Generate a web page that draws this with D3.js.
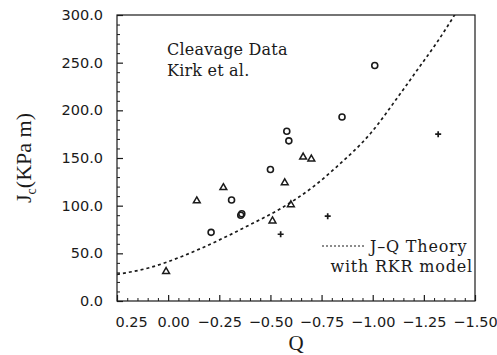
<!DOCTYPE html>
<html>
<head>
<meta charset="utf-8">
<script src="https://cdn.jsdelivr.net/npm/d3@7"></script>
<style>
  html, body { margin: 0; padding: 0; background: #fff; }
  svg { display: block; }
  .note { font-family: "DejaVu Serif", "Liberation Serif", serif; font-size: 16px; letter-spacing: 0.2px; }
  .legend-text { font-family: "DejaVu Serif", "Liberation Serif", serif; font-size: 16px; letter-spacing: 0.8px; }
</style>
</head>
<body>
<svg id="chart" width="497" height="355"></svg>
<script>
// Cleavage toughness data (Kirk et al.) against the constraint parameter Q
const triangleQ = [0.01, -0.14, -0.27, -0.51, -0.57, -0.60, -0.66, -0.70];
const triangleJ = [31, 105, 119, 84, 124, 101, 151, 149];

const circleQ = [-0.21, -0.31, -0.355, -0.36, -0.50, -0.58, -0.59, -0.85, -1.01];
const circleJ = [72, 106, 90, 91.5, 138, 178, 168, 193, 247];

const plusQ = [-0.55, -0.78, -1.32];
const plusJ = [70, 89, 175];

// J-Q theory prediction with the RKR cleavage model
const theoryQ = [0.25, 0.09, -0.07, -0.24, -0.40, -0.55, -0.71, -0.82, -0.99, -1.13, -1.23, -1.31, -1.40, -1.45];
const theoryJ = [28, 35, 47, 63, 80, 97, 120, 140, 176, 216, 246, 270, 300, 318];

const xTicks = [0.25, 0.00, -0.25, -0.50, -0.75, -1.00, -1.25, -1.50];
const yTicks = [0, 50, 100, 150, 200, 250, 300];

const noteLines = ["Cleavage Data", "Kirk et al."];
const legendLines = ["J\u2013Q Theory", "with RKR model"];

const svg = d3.select("#chart");
const plotLeft = 117, plotRight = 475, plotTop = 15, plotBottom = 301;

const x = d3.scaleLinear().domain([0.25, -1.5]).range([plotLeft, plotRight]);
const y = d3.scaleLinear().domain([0, 300]).range([plotBottom, plotTop]);

const ink = "#1a1a1a";
const tickFont = "'DejaVu Sans', sans-serif";
const titleFont = "'Liberation Serif', 'Times New Roman', serif";

svg.append("defs").append("clipPath").attr("id", "plot-clip")
  .append("rect").attr("x", plotLeft).attr("y", plotTop)
  .attr("width", plotRight - plotLeft).attr("height", plotBottom - plotTop);

// minor ticks
const xMinor = d3.range(0, 36).map(i => +(0.25 - i * 0.05).toFixed(2)).filter(v => !xTicks.includes(v));
const yMinor = d3.range(0, 301, 10).filter(v => !yTicks.includes(v));

svg.append("g").attr("transform", `translate(0,${plotBottom})`)
  .call(d3.axisBottom(x).tickValues(xMinor).tickSizeInner(-3).tickSizeOuter(0).tickFormat(""))
  .call(g => g.select(".domain").remove())
  .selectAll("line").attr("stroke", ink).attr("stroke-width", 1);

svg.append("g").attr("transform", `translate(${plotLeft},0)`)
  .call(d3.axisLeft(y).tickValues(yMinor).tickSizeInner(-3).tickSizeOuter(0).tickFormat(""))
  .call(g => g.select(".domain").remove())
  .selectAll("line").attr("stroke", ink).attr("stroke-width", 1);

// major ticks and labels
const fmtX = d3.format(".2f");
const xAxis = svg.append("g").attr("transform", `translate(0,${plotBottom})`)
  .call(d3.axisBottom(x).tickValues(xTicks).tickSizeInner(-6).tickSizeOuter(0)
    .tickPadding(16).tickFormat(fmtX));
xAxis.select(".domain").remove();
xAxis.selectAll("line").attr("stroke", ink).attr("stroke-width", 1.2);
xAxis.selectAll("text").attr("fill", ink).style("font-family", tickFont).style("font-size", "14.5px")
  .attr("text-anchor", d => d === 0.25 ? "start" : "middle")
  .attr("dx", d => d === 0.25 ? -2 : (d === 0 ? 5 : 0));

const yAxis = svg.append("g").attr("transform", `translate(${plotLeft},0)`)
  .call(d3.axisLeft(y).tickValues(yTicks).tickSizeInner(-6).tickSizeOuter(0)
    .tickPadding(14).tickFormat(d3.format(".1f")));
yAxis.select(".domain").remove();
yAxis.selectAll("line").attr("stroke", ink).attr("stroke-width", 1.2);
yAxis.selectAll("text").attr("fill", ink).style("font-family", tickFont).style("font-size", "14.5px");

// frame
svg.append("rect").attr("x", plotLeft).attr("y", plotTop)
  .attr("width", plotRight - plotLeft).attr("height", plotBottom - plotTop)
  .attr("fill", "none").attr("stroke", ink).attr("stroke-width", 1.2);

// theory curve
const theory = theoryQ.map((q, i) => [q, theoryJ[i]]);
svg.append("path").datum(theory)
  .attr("clip-path", "url(#plot-clip)")
  .attr("fill", "none").attr("stroke", ink).attr("stroke-width", 1.7)
  .attr("stroke-dasharray", "3,3")
  .attr("d", d3.line().x(d => x(d[0])).y(d => y(d[1])).curve(d3.curveMonotoneX));

// markers
const marks = svg.append("g").attr("fill", "none").attr("stroke", ink);

marks.selectAll("circle").data(circleQ.map((q, i) => [q, circleJ[i]])).join("circle")
  .attr("cx", d => x(d[0])).attr("cy", d => y(d[1])).attr("r", 3).attr("stroke-width", 1.6);

const tri = d3.symbol().type(d3.symbolTriangle).size(20);
marks.selectAll("path.tri").data(triangleQ.map((q, i) => [q, triangleJ[i]])).join("path")
  .attr("class", "tri")
  .attr("transform", d => `translate(${x(d[0])},${y(d[1])})`)
  .attr("d", tri).attr("stroke-width", 1.5).attr("stroke-linejoin", "miter");

marks.selectAll("path.plus").data(plusQ.map((q, i) => [q, plusJ[i]])).join("path")
  .attr("class", "plus")
  .attr("transform", d => `translate(${x(d[0])},${y(d[1])})`)
  .attr("d", "M-3,0H3M0,-3V3").attr("stroke-width", 1.7);

// annotation
svg.append("g").selectAll("text").data(noteLines).join("text")
  .attr("class", "note")
  .attr("x", 167).attr("y", (d, i) => 55 + i * 21)
  .attr("fill", ink)
  .text(d => d);

// legend
svg.append("line").attr("x1", 322).attr("x2", 366).attr("y1", 246).attr("y2", 246)
  .attr("stroke", ink).attr("stroke-width", 1.2).attr("stroke-dasharray", "2,2");
svg.append("text").attr("class", "legend-text").attr("x", 370).attr("y", 252)
  .attr("fill", ink)
  .text(legendLines[0]);
svg.append("text").attr("class", "legend-text").attr("x", 473).attr("y", 272).attr("text-anchor", "end")
  .attr("fill", ink)
  .text(legendLines[1]);

// axis titles
svg.append("text").attr("x", (plotLeft + plotRight) / 2).attr("y", 350).attr("text-anchor", "middle")
  .attr("fill", ink).style("font-family", titleFont).style("font-size", "21px")
  .text("Q");

const yt = svg.append("text")
  .attr("transform", `translate(31,${(plotTop + plotBottom) / 2}) rotate(-90)`)
  .attr("text-anchor", "middle")
  .attr("fill", ink).style("font-family", titleFont).style("font-size", "22px");
yt.append("tspan").text("J");
yt.append("tspan").attr("dy", 5).style("font-size", "14px").text("c");
yt.append("tspan").attr("dy", -5).text("(KPa m)");
</script>
</body>
</html>
